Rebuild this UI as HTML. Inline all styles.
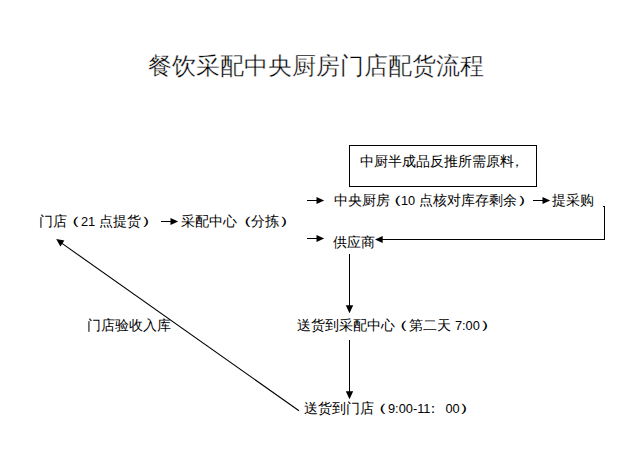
<!DOCTYPE html>
<html><head><meta charset="utf-8">
<style>
html,body{margin:0;padding:0;background:#fff;}
body{width:644px;height:453px;position:relative;overflow:hidden;font-family:"Liberation Sans",sans-serif;color:#000;}
.t{position:absolute;white-space:nowrap;font-size:14px;line-height:14px;}
.title{font-size:24px;line-height:24px;-webkit-text-stroke:0.35px #fff;}
.d{font-size:12.8px;}
.pl{display:inline-block;transform:translate(-0.5px,-0.5px) scale(1.6,0.85);transform-origin:68% 50%;}
.pr{display:inline-block;transform:translate(1px,-0.5px) scale(1.6,0.85);transform-origin:18% 50%;}
svg{position:absolute;left:0;top:0;}
</style></head><body>
<div class="t title" id="title" style="left:148px;top:54px;">餐饮采配中央厨房门店配货流程</div>
<div class="t" id="box" style="left:360px;top:154px;">中厨半成品反推所需原料<span style="position:relative;left:-4px">，</span></div>
<div class="t" id="zy" style="left:334px;top:193px;">中央厨房<span class="pl" style="margin-left:-3px">（</span><span class="d">10</span> 点核对库存剩余<span class="pr">）</span></div>
<div class="t" id="tcg" style="left:552px;top:193px;">提采购</div>
<div class="t" id="md" style="left:39px;top:214px;">门店<span class="pl" style="transform:translate(-2.5px,-0.5px) scale(1.6,0.85)">（</span><span class="d">21</span> 点提货<span class="pr">）</span></div>
<div class="t" id="cp" style="left:181px;top:214px;">采配中心<span class="pl">（</span>分拣<span class="pr">）</span></div>
<div class="t" id="gys" style="left:333px;top:235px;">供应商</div>
<div class="t" id="sh1" style="left:297px;top:318px;">送货到采配中心<span class="pl" style="transform:translate(-2.5px,-0.5px) scale(1.6,0.85)">（</span>第二天 <span class="d">7:00</span><span class="pr">）</span></div>
<div class="t" id="ys" style="left:87px;top:318px;">门店验收入库</div>
<div class="t" id="sh2" style="left:304px;top:401px;">送货到门店<span class="pl" style="transform:translate(-2.5px,-0.5px) scale(1.6,0.85)">（</span><span class="d">9:00-11</span><span style="position:relative;left:-4px">：</span><span class="d" style="margin-left:1px">00</span><span class="pr" style="transform:translate(-0.5px,-0.5px) scale(1.6,0.85)">）</span></div>
<svg width="644" height="453" viewBox="0 0 644 453">
<g fill="#000" shape-rendering="crispEdges">
<rect x="349" y="145" width="188" height="1"/>
<rect x="349" y="186" width="188" height="1"/>
<rect x="349" y="145" width="1" height="42"/>
<rect x="536" y="145" width="1" height="42"/>
<rect x="307" y="200" width="11" height="1"/>
<rect x="307" y="238" width="11" height="1"/>
<rect x="533" y="200" width="11" height="1"/>
<rect x="161" y="221" width="11" height="1"/>
<rect x="603" y="206" width="2" height="1"/>
<rect x="604" y="206" width="1" height="34"/>
<rect x="380" y="239" width="225" height="1"/>
<rect x="349" y="254" width="1" height="53"/>
<rect x="349" y="340" width="1" height="53"/>
</g>
<g fill="#000">
<polygon points="324.2,200.5 316.5,197 316.5,204"/>
<polygon points="324.2,238.5 316.5,235 316.5,242"/>
<polygon points="550.2,200.5 542.5,197 542.5,204"/>
<polygon points="178.2,221.5 170.5,218 170.5,225"/>
<polygon points="375,239.5 382.7,236 382.7,243"/>
<polygon points="349.5,313.2 345.8,305.3 353.2,305.3"/>
<polygon points="349.5,399.3 345.8,391.3 353.2,391.3"/>
<polygon points="56.2,239.1 64.4,240.6 60.4,246.4"/>
</g>
<line x1="299" y1="410.8" x2="62" y2="243.4" stroke="#000" stroke-width="1.1"/>
</svg>
</body></html>
